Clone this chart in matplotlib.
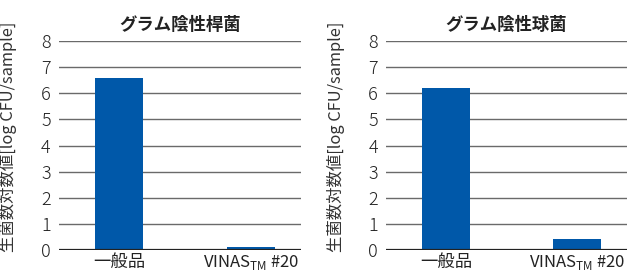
import matplotlib
matplotlib.use("Agg")
import matplotlib.pyplot as plt

plt.rcParams['font.family'] = ['Noto Sans CJK JP', 'DejaVu Sans']
plt.rcParams['mathtext.fontset'] = 'custom'
plt.rcParams['mathtext.rm'] = 'Noto Sans CJK JP'

BLUE = "#0058a9"

categories = ["一般品", r"VINAS$_{\mathrm{TM}}$ #20"]
titles = ["グラム陰性桿菌", "グラム陰性球菌"]
rod_values = [6.6, 0.13]
coccus_values = [6.2, 0.43]
yticks = list(range(0, 9))
ylabel = "生菌数対数値[log CFU/sample]"

fig = plt.figure(figsize=(6.32, 2.75), dpi=100)
ax_l = fig.add_axes([0.0934, 0.0909, 0.383, 0.76])
ax_r = fig.add_axes([0.611, 0.0909, 0.381, 0.76])

for ax, title, vals in [(ax_l, titles[0], rod_values),
                        (ax_r, titles[1], coccus_values)]:
    ax.bar([0, 1], vals, width=0.364, color=BLUE, zorder=3)
    ax.set_xlim(-0.455, 1.379)
    ax.set_ylim(0, 8)
    ax.set_yticks(yticks)
    ax.set_yticklabels([str(t) for t in yticks], fontsize=13, color="#222222",
                       fontweight="light")
    ax.set_xticks([0, 1])
    labs = ax.set_xticklabels(categories, color="#222222")
    labs[0].set_fontsize(12.5)
    labs[1].set_fontsize(12)
    ax.tick_params(length=0, pad=6)
    ax.tick_params(axis="x", pad=2)
    for s in ax.spines.values():
        s.set_visible(False)
    ax.yaxis.grid(True, color="#6a6a6a", lw=1.0, zorder=1)
    ax.axhline(0, color="#222222", lw=1.6, zorder=4)
    ax.set_title(title, fontsize=12.5, fontweight="bold", color="#222222",
                 pad=8)
    ax.set_ylabel(ylabel, fontsize=11.8, color="#333333")
    ax.yaxis.set_label_coords(-0.172, 0.54)

fig.savefig("out.png", dpi=100)
